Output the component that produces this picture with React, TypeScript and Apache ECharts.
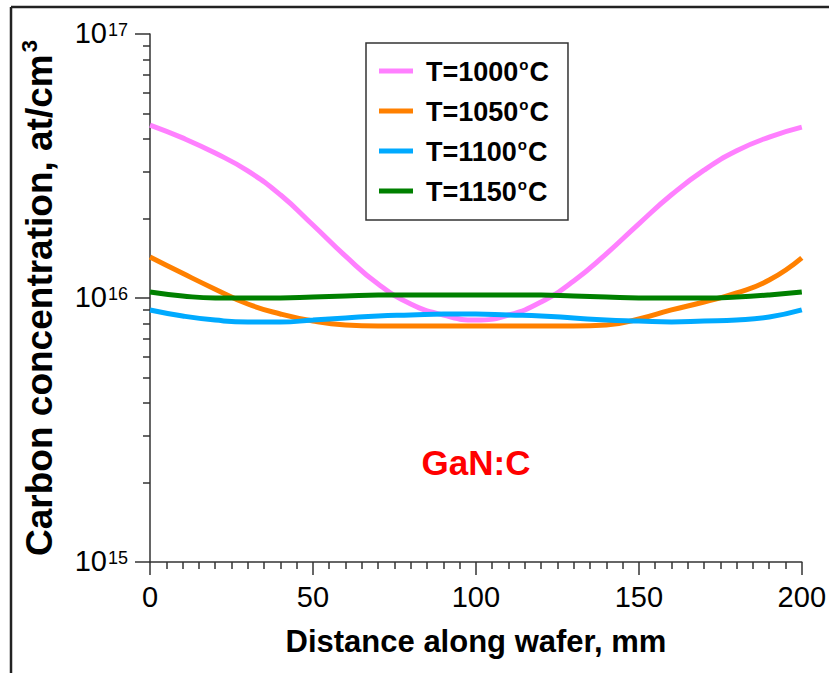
import React, { useEffect, useRef } from "react";
import * as echarts from "echarts";

const positions = [0, 10, 20, 30, 40, 50, 60, 70, 80, 90, 100, 110, 120, 130, 140, 150, 160, 170, 180, 190, 200];
const temps = ["1000", "1050", "1100", "1150"];
const t1000 = [4.52e16, 4.04e16, 3.54e16, 3.03e16, 2.46e16, 1.89e16, 1.44e16, 1.13e16, 9.49e15, 8.62e15, 8.25e15, 8.62e15, 9.66e15, 1.16e16, 1.47e16, 1.91e16, 2.46e16, 3.05e16, 3.61e16, 4.07e16, 4.44e16];
const t1050 = [1.43e16, 1.24e16, 1.08e16, 9.49e15, 8.7e15, 8.18e15, 7.9e15, 7.83e15, 7.83e15, 7.83e15, 7.83e15, 7.83e15, 7.83e15, 7.83e15, 7.9e15, 8.33e15, 9.01e15, 9.66e15, 1.045e16, 1.17e16, 1.42e16];
const t1100 = [9.01e15, 8.55e15, 8.25e15, 8.11e15, 8.11e15, 8.25e15, 8.4e15, 8.55e15, 8.62e15, 8.7e15, 8.7e15, 8.62e15, 8.55e15, 8.4e15, 8.25e15, 8.18e15, 8.11e15, 8.18e15, 8.25e15, 8.47e15, 9.01e15];
const t1150 = [1.054e16, 1.018e16, 1.0e16, 1.0e16, 1.0e16, 1.009e16, 1.018e16, 1.027e16, 1.027e16, 1.027e16, 1.027e16, 1.027e16, 1.027e16, 1.018e16, 1.009e16, 1.0e16, 1.0e16, 1.0e16, 1.009e16, 1.027e16, 1.054e16];
const xTicks = [0, 50, 100, 150, 200];
const yMinorTicks = [2, 3, 4, 5, 6, 7, 8, 9].map((k) => Math.log10(k) + 15).concat([2, 3, 4, 5, 6, 7, 8, 9].map((k) => Math.log10(k) + 16));

const colors = ["#ff80ff", "#ff8000", "#00aaff", "#008000"];
const seriesValues = [t1000, t1050, t1100, t1150];
const FONT = "'Liberation Sans', Arial, sans-serif";

export default function App() {
  const ref = useRef<HTMLDivElement>(null);
  useEffect(() => {
    document.body.style.margin = "0";
    const chart = echarts.init(ref.current!, null, { renderer: "svg" });
    const names = temps.map((t) => `T=${t}°C`);
    chart.setOption({
      animation: false,
      backgroundColor: "#ffffff",
      grid: { left: 150, right: 22, top: 34, bottom: 111 },
      legend: {
        orient: "vertical",
        left: 366,
        top: 43,
        data: names,
        icon: "rect",
        itemWidth: 34,
        itemHeight: 5,
        itemGap: 12,
        padding: [14, 19, 15, 13],
        borderColor: "#333",
        borderWidth: 1.5,
        backgroundColor: "#fff",
        formatter: (name: string) => {
          const t = name.replace("T=", "").replace("°C", "");
          return `{a|T=${t}}{b|o}{a|C}`;
        },
        textStyle: {
          padding: [0, 0, 0, 8],
          rich: {
            a: { fontSize: 27, fontWeight: "bold", fontFamily: FONT, color: "#000", lineHeight: 28, verticalAlign: "bottom" },
            b: { fontSize: 15, fontWeight: "bold", fontFamily: FONT, color: "#000", lineHeight: 15, padding: [0, 1, 13, 1], verticalAlign: "top" },
          },
        },
      },
      xAxis: {
        type: "value",
        min: 0,
        max: 200,
        interval: 50,
        name: "Distance along wafer, mm",
        nameLocation: "middle",
        nameGap: 64,
        nameTextStyle: { fontSize: 31, fontWeight: "bold", fontFamily: FONT, color: "#000" },
        axisLine: { show: true, onZero: false, lineStyle: { color: "#333", width: 1.5 } },
        axisTick: { show: true, length: 13, lineStyle: { color: "#333", width: 1.5 } },
        minorTick: { show: true, splitNumber: 10, length: 7, lineStyle: { color: "#333", width: 1.5 } },
        splitLine: { show: false },
        minorSplitLine: { show: false },
        axisLabel: {
          margin: 20,
          fontSize: 29,
          fontFamily: FONT,
          color: "#000",
          customValues: xTicks,
          formatter: (v: number) => String(v),
        },
      },
      yAxis: [
        {
          type: "log",
          logBase: 10,
          min: 1e15,
          max: 1e17,
          name: "{a|Carbon concentration, at/cm}{b|3}",
          nameLocation: "middle",
          nameGap: 92,
          nameRotate: 90,
          nameTextStyle: {
            rich: {
              a: { fontSize: 37, fontWeight: "bold", fontFamily: FONT, color: "#000", lineHeight: 40, verticalAlign: "bottom" },
              b: { fontSize: 22, fontWeight: "bold", fontFamily: FONT, color: "#000", lineHeight: 22, padding: [0, 0, 16, 2], verticalAlign: "top" },
            },
          },
          axisLine: { show: true, lineStyle: { color: "#333", width: 1.5 } },
          axisTick: { show: true, length: 15, lineStyle: { color: "#333", width: 1.5 } },
          splitLine: { show: false },
          axisLabel: {
            margin: 22,
            formatter: (v: number) => `{a|10}{b|${Math.round(Math.log10(v))}}`,
            rich: {
              a: { fontSize: 29, fontFamily: FONT, color: "#000", lineHeight: 26, verticalAlign: "bottom" },
              b: { fontSize: 18, fontFamily: FONT, color: "#000", lineHeight: 18, padding: [0, 0, 18, 1], verticalAlign: "top" },
            },
          },
        },
        {
          type: "value",
          min: 15,
          max: 17,
          position: "left",
          axisLine: { show: false },
          axisLabel: { show: false },
          splitLine: { show: false },
          axisTick: { show: true, length: 7, customValues: yMinorTicks, lineStyle: { color: "#333", width: 1.5 } },
        },
      ],
      series: names.map((n, i) => ({
        name: n,
        type: "line",
        yAxisIndex: 0,
        smooth: true,
        symbol: "none",
        color: colors[i],
        lineStyle: { width: 5, color: colors[i] },
        data: positions.map((x, j) => [x, seriesValues[i][j]]),
      })),
      graphic: [
        { type: "line", shape: { x1: 11, y1: 7, x2: 829, y2: 7 }, style: { stroke: "#222", lineWidth: 2.5 } },
        { type: "line", shape: { x1: 11, y1: 7, x2: 11, y2: 673 }, style: { stroke: "#222", lineWidth: 2.5 } },
        {
          type: "text",
          x: 476,
          y: 462,
          style: { text: "GaN:C", fill: "#ff0000", font: `bold 35px ${FONT}`, textAlign: "center", textVerticalAlign: "middle" },
        },
      ],
    });
    return () => chart.dispose();
  }, []);
  return <div ref={ref} style={{ width: 829, height: 673 }} />;
}
